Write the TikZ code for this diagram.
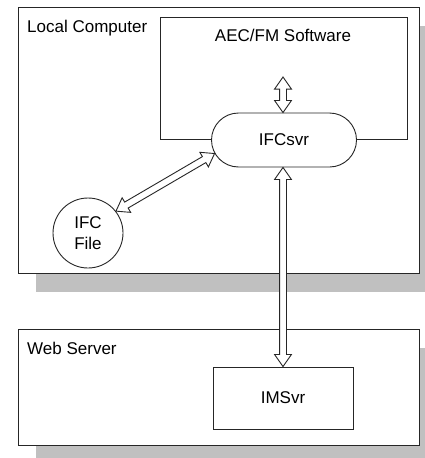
\documentclass[tikz,border=0pt]{standalone}
\usepackage{fontspec}
\setmainfont{Liberation Sans}
\usetikzlibrary{shapes.misc,shapes.arrows,shadows,calc}
\definecolor{shadowGray}{RGB}{192,192,192}

\begin{document}
\begin{tikzpicture}
[x=1pt,y=-1pt,
  boxDecorate/.style={shape=rectangle,draw=black!85,line width=0.9pt,fill=white,inner sep=0pt},%
  shadowDecorate/.style={boxDecorate,drop shadow={shadow xshift=18pt,shadow yshift=-19pt,fill=shadowGray,opacity=1}},%
  textDecorate/.style={font=\fontsize{17pt}{21pt}\selectfont,inner sep=0pt},%
  arrowDecorate/.style={shape=double arrow,draw=black!85,line width=0.9pt,fill=white,inner xsep=0pt,
    inner ysep=3pt,double arrow head extend=5pt,double arrow tip angle=70}]
\useasboundingbox (0,0) rectangle (425,458);
%% containers
\node (local) at (218.5,140) [shadowDecorate,minimum width=401pt,minimum height=266pt] {};
\node (web) at (218.5,387) [shadowDecorate,minimum width=401pt,minimum height=116pt] {};
\node (localLabel) at (27,32) [textDecorate,anchor=base west] {Local Computer};
\node (webLabel) at (27,354) [textDecorate,anchor=base west] {Web Server};
%% programs and files
\node (software) at (283.5,78) [boxDecorate,minimum width=247pt,minimum height=122pt] {};
\node (softwareLabel) at (283,41) [textDecorate,anchor=base] {AEC/FM Software};
\node (ifcsvr) at (284,140) [boxDecorate,textDecorate,shape=rounded rectangle,
  minimum width=145pt,minimum height=54pt] {IFCsvr};
\node (ifcfile) at (88,233) [boxDecorate,textDecorate,shape=circle,minimum size=70pt,
  align=center] {IFC\\File};
\node (imsvr) at (283,398) [boxDecorate,textDecorate,minimum width=140pt,
  minimum height=62pt] {IMSvr};
\coordinate (softtop) at (283,77);
%% hollow double arrows
\foreach \startnode/\endnode in {
  softtop/softtop |- ifcsvr.north, ifcfile.38/ifcsvr.191, imsvr.north |- ifcsvr.south/imsvr.north}
{
  \path let \p1=(\startnode), \p2=(\endnode),
    \n1={veclen(\x2-\x1,\y2-\y1)}, \n2={atan2(\y2-\y1,\x2-\x1)} in
    node at ($(\p1)!0.5!(\p2)$) [arrowDecorate,minimum height=\n1,rotate=\n2] {};
}
\end{tikzpicture}
\end{document}
